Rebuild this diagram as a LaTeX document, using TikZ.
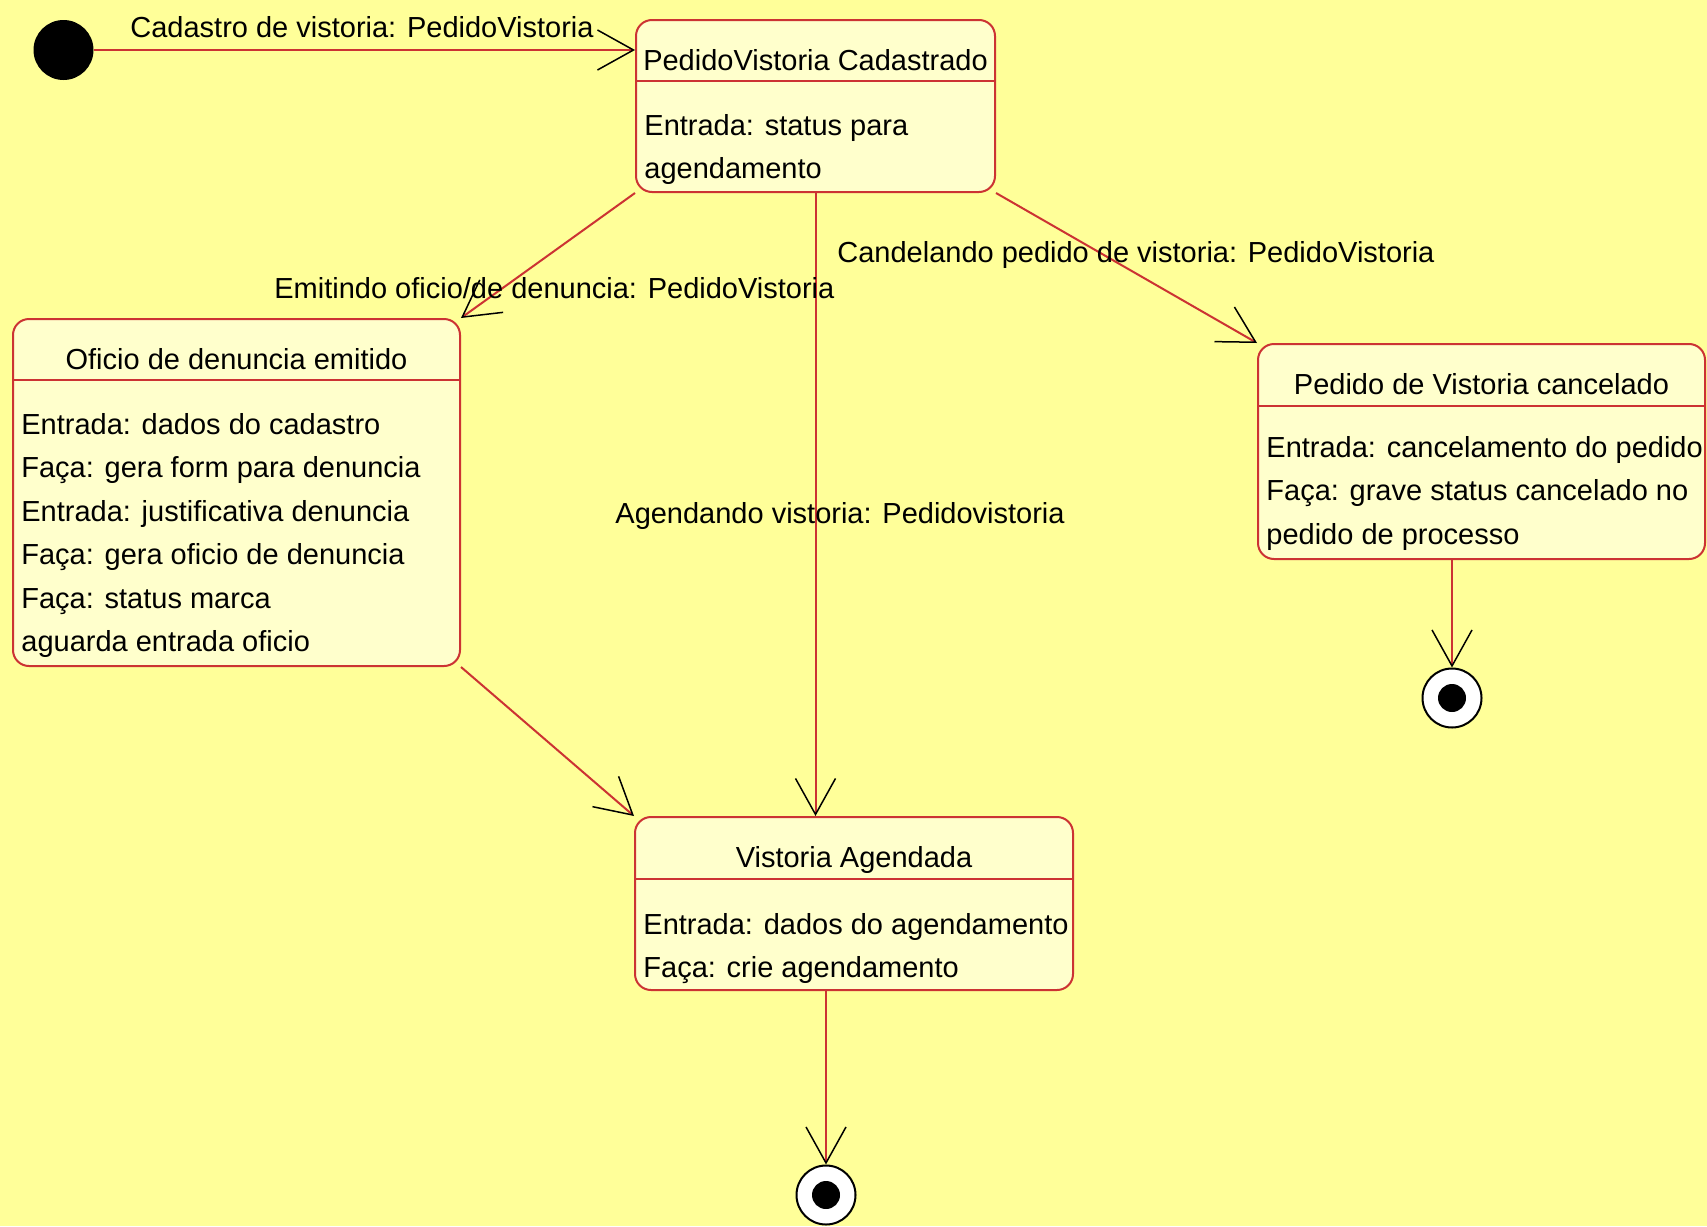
\documentclass[tikz,border=0pt]{standalone}
\usepackage{fontspec}
\setmainfont{Liberation Sans}
\usetikzlibrary{arrows.meta}
\definecolor{bgyellow}{RGB}{255,255,153}
\definecolor{stfill}{RGB}{255,255,204}
\definecolor{stred}{RGB}{204,51,51}

\begin{document}
\begin{tikzpicture}[
  x=0.5pt, y=-0.5pt,
  font=\fontsize{14.5}{21.75}\selectfont,
  state/.style={rectangle, rounded corners=8pt, draw=stred, fill=stfill,
                line width=1pt, inner sep=0pt},
  divider/.style={draw=stred, line width=1pt},
  ttl/.style={anchor=base, inner sep=0pt},
  body/.style={anchor=base west, align=left, inner sep=0pt},
  lbl/.style={anchor=base west, inner sep=0pt},
  init/.style={circle, fill=black, minimum size=30pt, inner sep=0pt},
  final/.style={circle, draw=black, line width=1pt, fill=white,
                minimum size=29.5pt, inner sep=0pt,
                path picture={\fill[black] (path picture bounding box.center) circle (7pt);}},
  trans/.style={draw=stred, line width=1pt,
                -{Straight Barb[color=black, length=18pt, width=20pt, line width=0.75pt]}}
]
\fill[bgyellow] (0,0) rectangle (1707,1226);
\useasboundingbox (0,0) rectangle (1707,1226);

% states (body nodes sit on the baseline of their last line)
\node[state, minimum width=179.5pt, minimum height=86pt] (cad) at (815.5,106) {};
\draw[divider] ([yshift=-31pt]cad.north west) -- ([yshift=-31pt]cad.north east);
\node[ttl] (cad-t) at ([yshift=-25.5pt]cad.north) {PedidoVistoria Cadastrado};
\node[body] (cad-b) at ([xshift=4.5pt, yshift=-79.75pt]cad.north west)
  {Entrada: status para\\agendamento};

\node[state, minimum width=223.5pt, minimum height=173.5pt] (opa) at (236.5,492.5) {};
\draw[divider] ([yshift=-31pt]opa.north west) -- ([yshift=-31pt]opa.north east);
\node[ttl] (opa-t) at ([yshift=-25.5pt]opa.north) {Oficio de denuncia emitido};
\node[body] (opa-b) at ([xshift=4.5pt, yshift=-166.75pt]opa.north west)
  {Entrada: dados do cadastro\\Faça: gera form para denuncia\\Entrada: justificativa denuncia\\
   Faça: gera oficio de denuncia\\Faça: status marca\\aguarda entrada oficio};

\node[state, minimum width=223.5pt, minimum height=107.5pt] (canc) at (1481.5,451.5) {};
\draw[divider] ([yshift=-31.5pt]canc.north west) -- ([yshift=-31.5pt]canc.north east);
\node[ttl] (canc-t) at ([yshift=-25.5pt]canc.north) {Pedido de Vistoria cancelado};
\node[body] (canc-b) at ([xshift=4.5pt, yshift=-100.5pt]canc.north west)
  {Entrada: cancelamento do pedido\\Faça: grave status cancelado no\\pedido de processo};

\node[state, minimum width=219pt, minimum height=86.5pt] (vag) at (854,903.5) {};
\draw[divider] ([yshift=-31.5pt]vag.north west) -- ([yshift=-31.5pt]vag.north east);
\node[ttl] (vag-t) at ([yshift=-25.5pt]vag.north) {Vistoria Agendada};
\node[body] (vag-b) at ([xshift=4.5pt, yshift=-80.75pt]vag.north west)
  {Entrada: dados do agendamento\\Faça: crie agendamento};

% initial and final states
\node[init] (ini) at (63.5,50) {};
\node[final] (fin1) at (1452,698) {};
\node[final] (fin2) at (826,1195) {};

% transitions
\draw[trans] (ini.east) -- (ini.east -| cad.west);
\draw[trans] (cad.south west) -- (opa.north east);
\draw[trans] (cad.south) -- (cad.south |- vag.north);
\draw[trans] (cad.south east) -- (canc.north west);
\draw[trans] (opa.south east) -- (vag.north west);
\draw[trans] (canc.south -| fin1.north) -- (fin1.north);
\draw[trans] (vag.south -| fin2.north) -- (fin2.north);

% transition labels
\node[lbl] (l-cad) at (130,37) {Cadastro de vistoria: PedidoVistoria};
\node[lbl] (l-opa) at (274,298) {Emitindo oficio/de denuncia: PedidoVistoria};
\node[lbl] (l-canc) at (837,262) {Candelando pedido de vistoria: PedidoVistoria};
\node[lbl] (l-vag) at (615,523) {Agendando vistoria: Pedidovistoria};
\end{tikzpicture}
\end{document}
